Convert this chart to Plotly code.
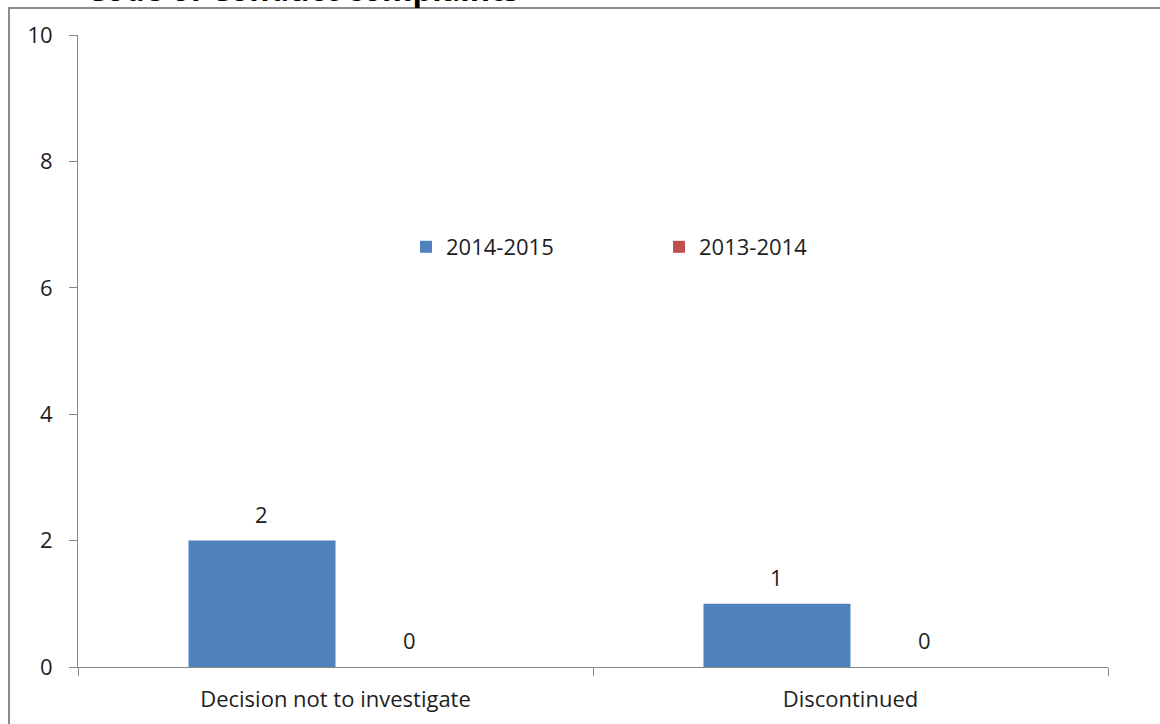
import plotly.graph_objects as go

categories = ["Decision not to investigate", "Discontinued"]
series_names = ["2014-2015", "2013-2014"]
values_2014_2015 = [2, 1]
values_2013_2014 = [0, 0]
y_ticks = [0, 2, 4, 6, 8, 10]
title_text = "Code of Conduct complaints"

FONT = "'Open Sans', Lato, sans-serif"
TXT = "#1E1E1E"
FS = 22
W, H = 1160, 724
L, R, T, B = 78, 52, 35, 57
pw, ph = W - L - R, H - T - B
bargap = 0.429


def px_x(x):
    return (x - L) / pw


def px_y(y):
    return (H - B - y) / ph


fig = go.Figure()
fig.add_trace(go.Bar(
    x=categories, y=values_2014_2015, name=series_names[0],
    marker=dict(color="#4F81BD", line=dict(width=0)),
))
fig.add_trace(go.Bar(
    x=categories, y=values_2013_2014, name=series_names[1],
    marker=dict(color="#C0504D", line=dict(width=0)),
))

# data labels above each bar
cat_px = pw / len(categories)
bar_px = cat_px * (1 - bargap) / 2
for vals, side in ((values_2014_2015, -1), (values_2013_2014, 1)):
    for c, v in zip(categories, vals):
        fig.add_annotation(x=c, y=v, text=str(v), showarrow=False,
                           xshift=side * bar_px / 2, yshift=27,
                           yanchor="middle", xanchor="center",
                           font=dict(size=FS, family=FONT, color=TXT))

fig.update_layout(
    width=W, height=H,
    margin=dict(l=L, r=R, t=T, b=B),
    paper_bgcolor="white", plot_bgcolor="white",
    barmode="group", bargap=bargap, bargroupgap=0,
    font=dict(family=FONT, size=FS, color=TXT),
    showlegend=True,
    legend=dict(orientation="h", x=px_x(406), y=px_y(247), yanchor="middle",
                xanchor="left", entrywidth=208, entrywidthmode="pixels",
                font=dict(size=FS, family=FONT, color=TXT),
                itemwidth=30, bgcolor="rgba(0,0,0,0)"),
)
fig.update_xaxes(
    showline=True, linecolor="#868686", linewidth=1,
    ticks="outside", tickson="boundaries", ticklen=8, tickcolor="#868686",
    showgrid=False, ticklabelstandoff=13,
    tickfont=dict(size=FS, family=FONT, color=TXT),
)
fig.update_yaxes(
    range=[0, 10], tickvals=y_ticks, showline=True, linecolor="#868686",
    linewidth=1, ticks="outside", ticklen=8, tickcolor="#868686",
    showgrid=False, zeroline=False, ticklabelstandoff=12,
    tickfont=dict(size=FS, family=FONT, color=TXT),
)

# title, mostly cropped off by the top edge as in the reference
fig.add_annotation(text="<b>" + title_text + "</b>", xref="paper", yref="paper",
                   x=px_x(84), y=px_y(12), xanchor="left", yanchor="bottom",
                   showarrow=False, font=dict(size=31, family=FONT, color="black"))

# outer frame (only its left and top edges fall inside the crop)
fig.add_shape(type="line", xref="paper", yref="paper",
              x0=px_x(9), x1=px_x(9), y0=px_y(8), y1=px_y(740),
              line=dict(color="#8C8C8C", width=2))
fig.add_shape(type="line", xref="paper", yref="paper",
              x0=px_x(8), x1=px_x(1180), y0=px_y(8), y1=px_y(8),
              line=dict(color="#8C8C8C", width=2))

fig.write_html("out.html", config={"displayModeBar": False},
               post_script="document.body.style.margin='0';")
